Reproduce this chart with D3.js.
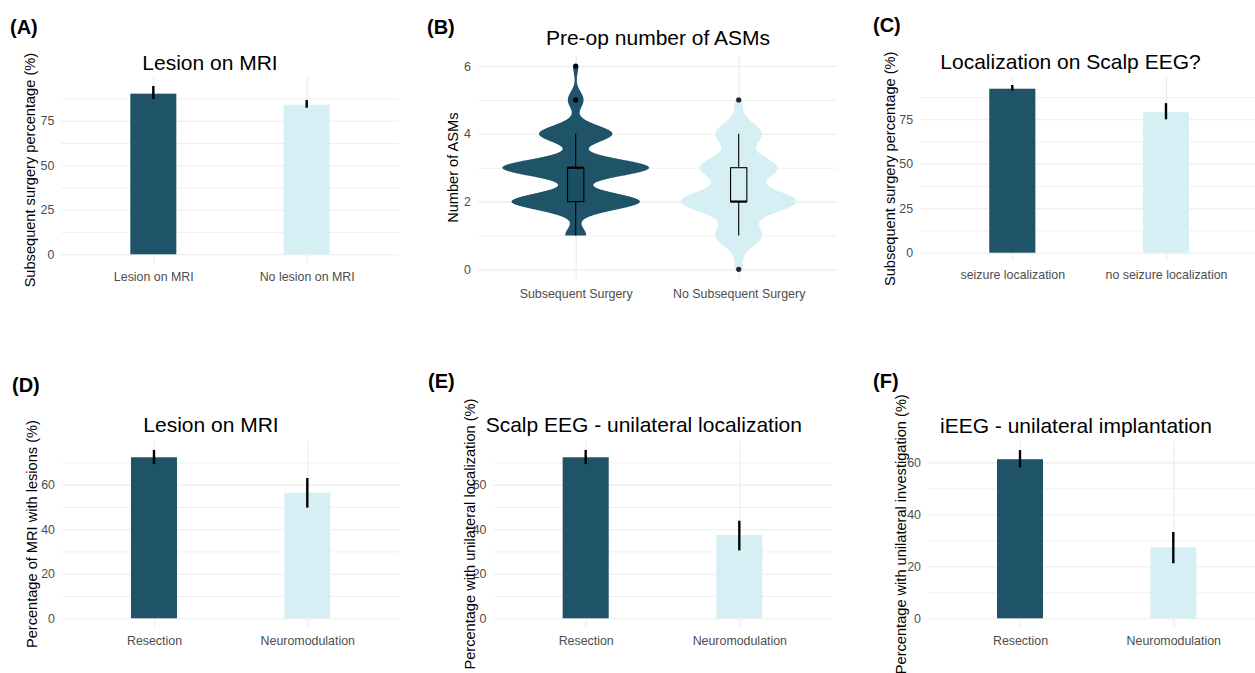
<!DOCTYPE html>
<html>
<head>
<meta charset="utf-8">
<script src="https://cdn.jsdelivr.net/npm/d3@7"></script>
<style>
body { margin: 0; background: #fff; }
svg { display: block; font-family: "Liberation Sans", Arial, Helvetica, sans-serif; }
.plot-title { font-size: 21px; fill: #000; }
.axis-title { font-size: 14.6px; fill: #000; }
.panel-tag { font-size: 20px; font-weight: bold; fill: #000; }
</style>
</head>
<body>
<div id="chart"></div>
<script>
// (A) subsequent surgery by lesion on MRI
var lesionCats = ["Lesion on MRI", "No lesion on MRI"];
var lesionPct = [90.2, 84.0];
var lesionLow = [87.2, 82.3];
var lesionHigh = [94.5, 86.6];

// (B) pre-op number of ASMs, patient counts per number of ASMs
var asmLevels = [0, 1, 2, 3, 4, 5, 6];
var asmGroups = ["Subsequent Surgery", "No Subsequent Surgery"];
var asmCountsSurgery = [0, 8, 49, 56, 28, 6, 2];
var asmCountsNoSurgery = [1, 6, 15, 10, 6, 1, 0];
var asmTicks = [0, 2, 4, 6];

// (C) subsequent surgery by localization on scalp EEG
var eegCats = ["seizure localization", "no seizure localization"];
var eegPct = [92.2, 79.1];
var eegLow = [91.1, 75.0];
var eegHigh = [94.3, 84.1];

// (D)-(F) resection vs neuromodulation
var treatCats = ["Resection", "Neuromodulation"];
var mriLesionPct = [72.3, 56.4];
var mriLesionLow = [69.2, 49.7];
var mriLesionHigh = [75.6, 63.0];
var unilatEegPct = [72.3, 37.4];
var unilatEegLow = [69.2, 30.5];
var unilatEegHigh = [75.6, 43.8];
var unilatIeegPct = [61.2, 27.3];
var unilatIeegLow = [58.1, 21.2];
var unilatIeegHigh = [64.7, 33.2];

var pctTicks25 = [0, 25, 50, 75];
var pctTicks20 = [0, 20, 40, 60];

var FILLS = ["#1f5468", "#d6eff4"];
var GRID = "#ebebeb";

var svg = d3.select("#chart").append("svg")
    .attr("width", 1255)
    .attr("height", 673);
svg.append("rect").attr("width", 1255).attr("height", 673).attr("fill", "#fff");

// grid lines + tick labels in ggplot theme_minimal style
function drawFrame(x, y, f, ticks) {
    var step = ticks[1] - ticks[0];
    var dom = y.domain();
    var minor = d3.range(ticks[0] - step / 2, dom[1], step)
        .filter(function (v) { return v >= dom[0] && v <= dom[1]; });
    // minor horizontal grid
    svg.append("g")
        .attr("transform", "translate(" + f.x0 + ",0)")
        .call(d3.axisLeft(y).tickValues(minor).tickSize(-(f.x1 - f.x0)).tickFormat(""))
        .call(function (g) { g.select(".domain").remove(); })
        .selectAll("line").attr("stroke", GRID).attr("stroke-width", 0.8);
    // major horizontal grid
    svg.append("g")
        .attr("transform", "translate(" + f.x0 + ",0)")
        .call(d3.axisLeft(y).tickValues(ticks).tickSize(-(f.x1 - f.x0)).tickFormat(""))
        .call(function (g) { g.select(".domain").remove(); })
        .selectAll("line").attr("stroke", GRID).attr("stroke-width", 1.1);
    // vertical grid at categories
    svg.append("g")
        .attr("transform", "translate(0," + f.bottom + ")")
        .call(d3.axisBottom(x).tickSize(-(f.bottom - f.top)).tickFormat(""))
        .call(function (g) { g.select(".domain").remove(); })
        .selectAll("line").attr("stroke", GRID).attr("stroke-width", 1.1);
    // y tick labels
    svg.append("g")
        .attr("transform", "translate(" + f.x0 + ",0)")
        .call(d3.axisLeft(y).tickValues(ticks).tickFormat(d3.format("d")).tickSize(0).tickPadding(7))
        .call(function (g) { g.select(".domain").remove(); })
        .attr("font-family", null)
        .attr("font-size", "12.4px")
        .attr("color", "#4d4d4d");
    // x tick labels
    svg.append("g")
        .attr("transform", "translate(0," + f.bottom + ")")
        .call(d3.axisBottom(x).tickSize(0).tickPadding(9.5))
        .call(function (g) { g.select(".domain").remove(); })
        .attr("font-family", null)
        .attr("font-size", "12.4px")
        .attr("color", "#4d4d4d");
}

function drawLabels(o) {
    svg.append("text").attr("class", "panel-tag")
        .attr("x", o.tagX).attr("y", o.tagY).text(o.tag);
    svg.append("text").attr("class", "plot-title")
        .attr("x", o.titleX).attr("y", o.titleY)
        .attr("text-anchor", "middle").text(o.title);
    var f = o.frame;
    svg.append("text").attr("class", "axis-title")
        .attr("transform", "translate(" + o.yTitleX + "," + (f.top + f.bottom) / 2 + ") rotate(-90)")
        .attr("text-anchor", "middle")
        .attr("dy", "0.35em")
        .text(o.yTitle);
}

function drawBarPanel(o) {
    var f = o.frame;
    var x = d3.scalePoint().domain(o.cats).range([f.x0, f.x1]).padding(0.6);
    var top = d3.max(o.highs);
    var y = d3.scaleLinear().domain([-0.05 * top, top * 1.05]).range([f.bottom, f.top]);
    drawFrame(x, y, f, o.ticks);
    var bw = x.step() * 0.3;
    var rows = o.cats.map(function (c, i) {
        return { cat: c, v: o.values[i], lo: o.lows[i], hi: o.highs[i], i: i };
    });
    svg.append("g").selectAll("rect")
        .data(rows).enter().append("rect")
        .attr("x", function (d) { return x(d.cat) - bw / 2; })
        .attr("y", function (d) { return y(d.v); })
        .attr("width", bw)
        .attr("height", function (d) { return y(0) - y(d.v); })
        .attr("fill", function (d) { return FILLS[d.i]; });
    svg.append("g").selectAll("line")
        .data(rows).enter().append("line")
        .attr("x1", function (d) { return x(d.cat); })
        .attr("x2", function (d) { return x(d.cat); })
        .attr("y1", function (d) { return y(d.lo); })
        .attr("y2", function (d) { return y(d.hi); })
        .attr("stroke", "#000")
        .attr("stroke-width", 2.4);
    drawLabels(o);
}

// gaussian kde with R's bw.nrd0, trimmed to data range, plus boxplot stats
function violinStats(counts) {
    var vals = [];
    counts.forEach(function (c, k) { for (var j = 0; j < c; j++) vals.push(asmLevels[k]); });
    vals.sort(d3.ascending);
    var n = vals.length;
    var q1 = d3.quantileSorted(vals, 0.25);
    var med = d3.quantileSorted(vals, 0.5);
    var q3 = d3.quantileSorted(vals, 0.75);
    var iqr = q3 - q1;
    var bw = 0.9 * Math.min(d3.deviation(vals), iqr / 1.34) * Math.pow(n, -0.2);
    var lo = vals[0], hi = vals[n - 1];
    var dens = d3.range(512).map(function (i) {
        var t = lo + i * (hi - lo) / 511;
        var s = 0;
        counts.forEach(function (c, k) {
            var z = (t - asmLevels[k]) / bw;
            s += c * Math.exp(-0.5 * z * z);
        });
        return { v: t, d: s / (n * bw * Math.sqrt(2 * Math.PI)) };
    });
    var inside = vals.filter(function (v) { return v >= q1 - 1.5 * iqr && v <= q3 + 1.5 * iqr; });
    var outliers = Array.from(new Set(vals.filter(function (v) {
        return v < q1 - 1.5 * iqr || v > q3 + 1.5 * iqr;
    })));
    return { dens: dens, q1: q1, med: med, q3: q3, wlo: d3.min(inside), whi: d3.max(inside), outliers: outliers };
}

function drawViolinPanel(o) {
    var f = o.frame;
    var x = d3.scalePoint().domain(asmGroups).range([f.x0, f.x1]).padding(0.6);
    var y = d3.scaleLinear().domain([-0.3, 6.3]).range([f.bottom, f.top]);
    drawFrame(x, y, f, asmTicks);
    var stats = [violinStats(asmCountsSurgery), violinStats(asmCountsNoSurgery)];
    var maxD = d3.max(stats, function (s) { return d3.max(s.dens, function (p) { return p.d; }); });
    var half = x.step() * 0.45;
    var boxW = x.step() * 0.1;
    var boxFills = ["#1a4f66", "#d6eff4"];
    stats.forEach(function (s, i) {
        var cx = x(asmGroups[i]);
        var area = d3.area()
            .x0(function (p) { return cx - p.d / maxD * half; })
            .x1(function (p) { return cx + p.d / maxD * half; })
            .y(function (p) { return y(p.v); });
        svg.append("path").datum(s.dens)
            .attr("d", area)
            .attr("fill", FILLS[i]);
        var g = svg.append("g").attr("stroke", "#000");
        g.append("line").attr("x1", cx).attr("x2", cx)
            .attr("y1", y(s.q3)).attr("y2", y(s.whi)).attr("stroke-width", 1.1);
        g.append("line").attr("x1", cx).attr("x2", cx)
            .attr("y1", y(s.q1)).attr("y2", y(s.wlo)).attr("stroke-width", 1.1);
        g.append("rect")
            .attr("x", cx - boxW / 2).attr("width", boxW)
            .attr("y", y(s.q3)).attr("height", y(s.q1) - y(s.q3))
            .attr("fill", boxFills[i]).attr("stroke-width", 1.1);
        g.append("line").attr("x1", cx - boxW / 2).attr("x2", cx + boxW / 2)
            .attr("y1", y(s.med)).attr("y2", y(s.med)).attr("stroke-width", 2.2);
        svg.append("g").selectAll("circle")
            .data(s.outliers).enter().append("circle")
            .attr("cx", cx)
            .attr("cy", function (v) { return y(v); })
            .attr("r", 2.6)
            .attr("fill", i === 0 ? "#000" : "#262626");
    });
    drawLabels(o);
}

drawBarPanel({
    tag: "(A)", tagX: 10, tagY: 34,
    title: "Lesion on MRI", titleX: 210, titleY: 69.5,
    yTitle: "Subsequent surgery percentage (%)", yTitleX: 29.5,
    frame: { x0: 61.3, x1: 398.7, top: 77.6, bottom: 262.7 },
    cats: lesionCats, values: lesionPct, lows: lesionLow, highs: lesionHigh, ticks: pctTicks25
});

drawViolinPanel({
    tag: "(B)", tagX: 427, tagY: 34,
    title: "Pre-op number of ASMs", titleX: 658, titleY: 44.5,
    yTitle: "Number of ASMs", yTitleX: 453,
    frame: { x0: 477.9, x1: 836.5, top: 55.9, bottom: 279.5 }
});

drawBarPanel({
    tag: "(C)", tagX: 873, tagY: 32,
    title: "Localization on Scalp EEG?", titleX: 1070.5, titleY: 68.5,
    yTitle: "Subsequent surgery percentage (%)", yTitleX: 890,
    frame: { x0: 920.1, x1: 1258.2, top: 76.6, bottom: 261.1 },
    cats: eegCats, values: eegPct, lows: eegLow, highs: eegHigh, ticks: pctTicks25
});

drawBarPanel({
    tag: "(D)", tagX: 12, tagY: 392,
    title: "Lesion on MRI", titleX: 211, titleY: 432.3,
    yTitle: "Percentage of MRI with lesions (%)", yTitleX: 31.7,
    frame: { x0: 62, x1: 399.3, top: 441.5, bottom: 626.7 },
    cats: treatCats, values: mriLesionPct, lows: mriLesionLow, highs: mriLesionHigh, ticks: pctTicks20
});

drawBarPanel({
    tag: "(E)", tagX: 428, tagY: 388,
    title: "Scalp EEG - unilateral localization", titleX: 643.8, titleY: 432.3,
    yTitle: "Percentage with unilateral localization (%)", yTitleX: 470,
    frame: { x0: 493.5, x1: 831.5, top: 441.5, bottom: 626.7 },
    cats: treatCats, values: unilatEegPct, lows: unilatEegLow, highs: unilatEegHigh, ticks: pctTicks20
});

drawBarPanel({
    tag: "(F)", tagX: 873, tagY: 388,
    title: "iEEG - unilateral implantation", titleX: 1076, titleY: 432.5,
    yTitle: "Percentage with unilateral investigation (%)", yTitleX: 900.7,
    frame: { x0: 928, x1: 1265.3, top: 441.7, bottom: 626.7 },
    cats: treatCats, values: unilatIeegPct, lows: unilatIeegLow, highs: unilatIeegHigh, ticks: pctTicks20
});
</script>
</body>
</html>
